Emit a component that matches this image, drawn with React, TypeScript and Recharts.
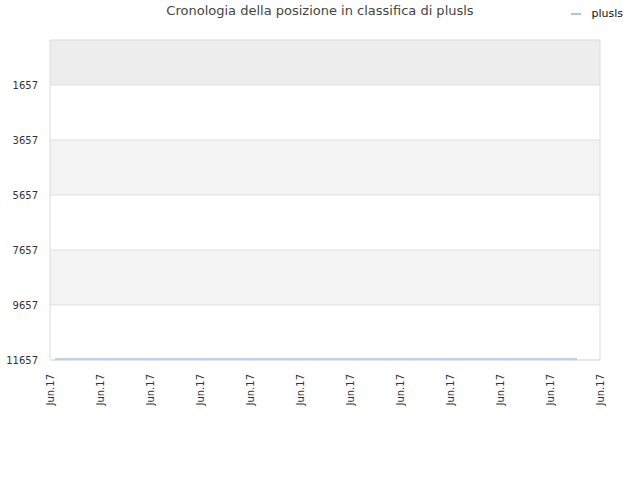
import React from 'react';
import { LineChart, Line, XAxis, YAxis, ReferenceArea, ReferenceLine } from 'recharts';

// time position (in tick steps) and rank for each sample
const timePoints = [0.1, 1.5, 3, 4.5, 6, 7.5, 9, 10.54];
const rankValues = [11625, 11625, 11625, 11625, 11625, 11625, 11625, 11625];
const xTickLabels = ['Jun.17', 'Jun.17', 'Jun.17', 'Jun.17', 'Jun.17', 'Jun.17', 'Jun.17', 'Jun.17', 'Jun.17', 'Jun.17', 'Jun.17', 'Jun.17'];
const yTicks = [1657, 3657, 5657, 7657, 9657, 11657];
const seriesName = 'plusls';

const data = timePoints.map((t, i) => ({ t, rank: rankValues[i] }));
const xTicks = xTickLabels.map((_, i) => i);

const FONT = '"DejaVu Sans", sans-serif';
const LINE_COLOR = '#a8c8ea';

const XTick = (props: any) => {
  const { x, y, payload } = props;
  return (
    <g transform={`translate(${x},${y + 6})`}>
      <text transform="rotate(-90)" textAnchor="end" dy={4} fontSize={10} fill="#333" fontFamily={FONT}>
        {xTickLabels[payload.value]}
      </text>
    </g>
  );
};

export default function App() {
  return (
    <div style={{ position: 'absolute', left: 0, top: 0, width: 640, height: 480, background: '#fff' }}>
      <div style={{ position: 'absolute', top: 3, left: 0, width: 640, textAlign: 'center', fontFamily: FONT, fontSize: 13, color: '#444' }}>
        Cronologia della posizione in classifica di plusls
      </div>
      <div style={{ position: 'absolute', top: 7, right: 17, display: 'flex', alignItems: 'center', fontFamily: FONT, fontSize: 11, color: '#111' }}>
        <span style={{ display: 'inline-block', width: 10, height: 2, background: LINE_COLOR, marginRight: 10 }} />
        <span>{seriesName}</span>
      </div>
      <LineChart width={640} height={480} data={data} margin={{ top: 40, right: 40, bottom: 0, left: 0 }}>
        <ReferenceArea y1={21} y2={1657} fill="#ededed" fillOpacity={1} />
        <ReferenceArea y1={3657} y2={5657} fill="#f3f3f3" fillOpacity={1} />
        <ReferenceArea y1={7657} y2={9657} fill="#f3f3f3" fillOpacity={1} />
        {yTicks.map((v) => (
          <ReferenceLine key={v} y={v} stroke="#e0e0e0" strokeWidth={1} />
        ))}
        <ReferenceArea x1={0} x2={11} y1={21} y2={11657} fill="none" stroke="#dcdcdc" strokeWidth={1} />
        <XAxis
          dataKey="t"
          type="number"
          domain={[0, 11]}
          ticks={xTicks}
          interval={0}
          height={120}
          tick={<XTick />}
          tickLine={false}
          axisLine={false}
        />
        <YAxis
          type="number"
          reversed
          domain={[21, 11657]}
          ticks={yTicks}
          interval={0}
          width={50}
          tickSize={0}
          tickMargin={12}
          tickLine={false}
          axisLine={false}
          tick={{ fontSize: 10, fill: '#333', fontFamily: FONT }}
        />
        <Line dataKey="rank" name={seriesName} stroke={LINE_COLOR} strokeWidth={1.5} dot={false} isAnimationActive={false} />
      </LineChart>
    </div>
  );
}
